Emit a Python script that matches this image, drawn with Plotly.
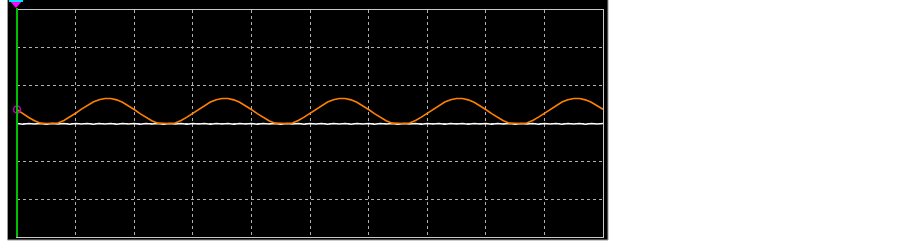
import plotly.graph_objects as go

# time axis in divisions (0..10), 0.1 div steps
time_div = [round(i * 0.1, 1) for i in range(101)]

# orange channel (divisions above centre)
ch_orange = [
    0.369, 0.261, 0.159, 0.072, 0.010, 0.0, 0.0, 0.015, 0.080, 0.168,
    0.271, 0.379, 0.481, 0.568, 0.630, 0.662, 0.660, 0.625, 0.560, 0.472,
    0.369, 0.261, 0.159, 0.072, 0.010, 0.0, 0.0, 0.015, 0.080, 0.168,
    0.271, 0.379, 0.481, 0.568, 0.630, 0.662, 0.660, 0.625, 0.560, 0.472,
    0.369, 0.261, 0.159, 0.072, 0.010, 0.0, 0.0, 0.015, 0.080, 0.168,
    0.271, 0.379, 0.481, 0.568, 0.630, 0.662, 0.660, 0.625, 0.560, 0.472,
    0.369, 0.261, 0.159, 0.072, 0.010, 0.0, 0.0, 0.015, 0.080, 0.168,
    0.271, 0.379, 0.481, 0.568, 0.630, 0.662, 0.660, 0.625, 0.560, 0.472,
    0.369, 0.261, 0.159, 0.072, 0.010, 0.0, 0.0, 0.015, 0.080, 0.168,
    0.271, 0.379, 0.481, 0.568, 0.630, 0.662, 0.660, 0.625, 0.560, 0.472,
    0.376,
]

# white channel: flat at the centre line with small noise
ch_white = [
    0.0, -0.02, 0.0, -0.01, 0.0, -0.02, 0.0, -0.01, 0.0, -0.02,
    0.0, -0.01, 0.0, -0.02, 0.0, -0.01, 0.0, -0.02, 0.0, -0.01,
    0.0, -0.02, 0.0, -0.01, 0.0, -0.02, 0.0, -0.01, 0.0, -0.02,
    0.0, -0.01, 0.0, -0.02, 0.0, -0.01, 0.0, -0.02, 0.0, -0.01,
    0.0, -0.02, 0.0, -0.01, 0.0, -0.02, 0.0, -0.01, 0.0, -0.02,
    0.0, -0.01, 0.0, -0.02, 0.0, -0.01, 0.0, -0.02, 0.0, -0.01,
    0.0, -0.02, 0.0, -0.01, 0.0, -0.02, 0.0, -0.01, 0.0, -0.02,
    0.0, -0.01, 0.0, -0.02, 0.0, -0.01, 0.0, -0.02, 0.0, -0.01,
    0.0, -0.02, 0.0, -0.01, 0.0, -0.02, 0.0, -0.01, 0.0, -0.02,
    0.0, -0.01, 0.0, -0.02, 0.0, -0.01, 0.0, -0.02, 0.0, -0.01,
    0.0,
]

fig = go.Figure()

fig.add_trace(go.Scatter(
    x=time_div, y=ch_white, mode="lines",
    line=dict(color="#ffffff", width=1.5), hoverinfo="skip", showlegend=False,
))
fig.add_trace(go.Scatter(
    x=time_div, y=ch_orange, mode="lines",
    line=dict(color="#ff8000", width=1.6), hoverinfo="skip", showlegend=False,
))
# channel marker (open magenta circle at the left edge)
fig.add_trace(go.Scatter(
    x=[time_div[0]], y=[ch_orange[0]], mode="markers",
    marker=dict(symbol="circle-open", size=7, color="#c000c0", line=dict(width=1.5)),
    cliponaxis=False, hoverinfo="skip", showlegend=False,
))

PL, PR, PT, PB = 17, 603, 10, 237
W, H = 903, 243
pw, ph = PR - PL, PB - PT


def px(xp):
    return (xp - PL) / pw


def py(yp):
    return (PB - yp) / ph


shapes = [
    # outer black screen
    dict(type="rect", xref="paper", yref="paper", layer="below",
         x0=px(7.5), x1=px(608), y0=py(240), y1=py(-1),
         fillcolor="#000000", line=dict(color="#9a9a9a", width=1)),
    # green left axis line
    dict(type="line", xref="paper", yref="paper",
         x0=0, x1=0, y0=0, y1=py(8),
         line=dict(color="#00c000", width=2)),
    # trigger marker triangle (magenta with cyan top)
    dict(type="path", xref="paper", yref="paper",
         path=f"M {px(9)},{py(0)} L {px(23)},{py(0)} L {px(16)},{py(8)} Z",
         fillcolor="#ff00ff", line=dict(width=0)),
    dict(type="line", xref="paper", yref="paper",
         x0=px(9), x1=px(23), y0=py(1), y1=py(1),
         line=dict(color="#00e0ff", width=2)),
]

axis_common = dict(
    showticklabels=False, ticks="", zeroline=False,
    showgrid=True, gridcolor="#b0b0b0", griddash="3px,3px", gridwidth=1,
    showline=True, mirror=True, linecolor="#c8c8c8", linewidth=1,
    fixedrange=True,
)

fig.update_layout(
    width=W, height=H, autosize=False,
    margin=dict(l=PL, r=W - PR, t=PT, b=H - PB, pad=0),
    paper_bgcolor="#ffffff", plot_bgcolor="#000000",
    xaxis=dict(range=[0, 10], dtick=1, tick0=0, **axis_common),
    yaxis=dict(range=[-3, 3], dtick=1, tick0=0, **axis_common),
    shapes=shapes,
    showlegend=False,
)

fig.write_html(
    "out.html",
    config={"displayModeBar": False},
    post_script="document.body.style.margin='0';document.body.style.overflow='hidden';",
)
